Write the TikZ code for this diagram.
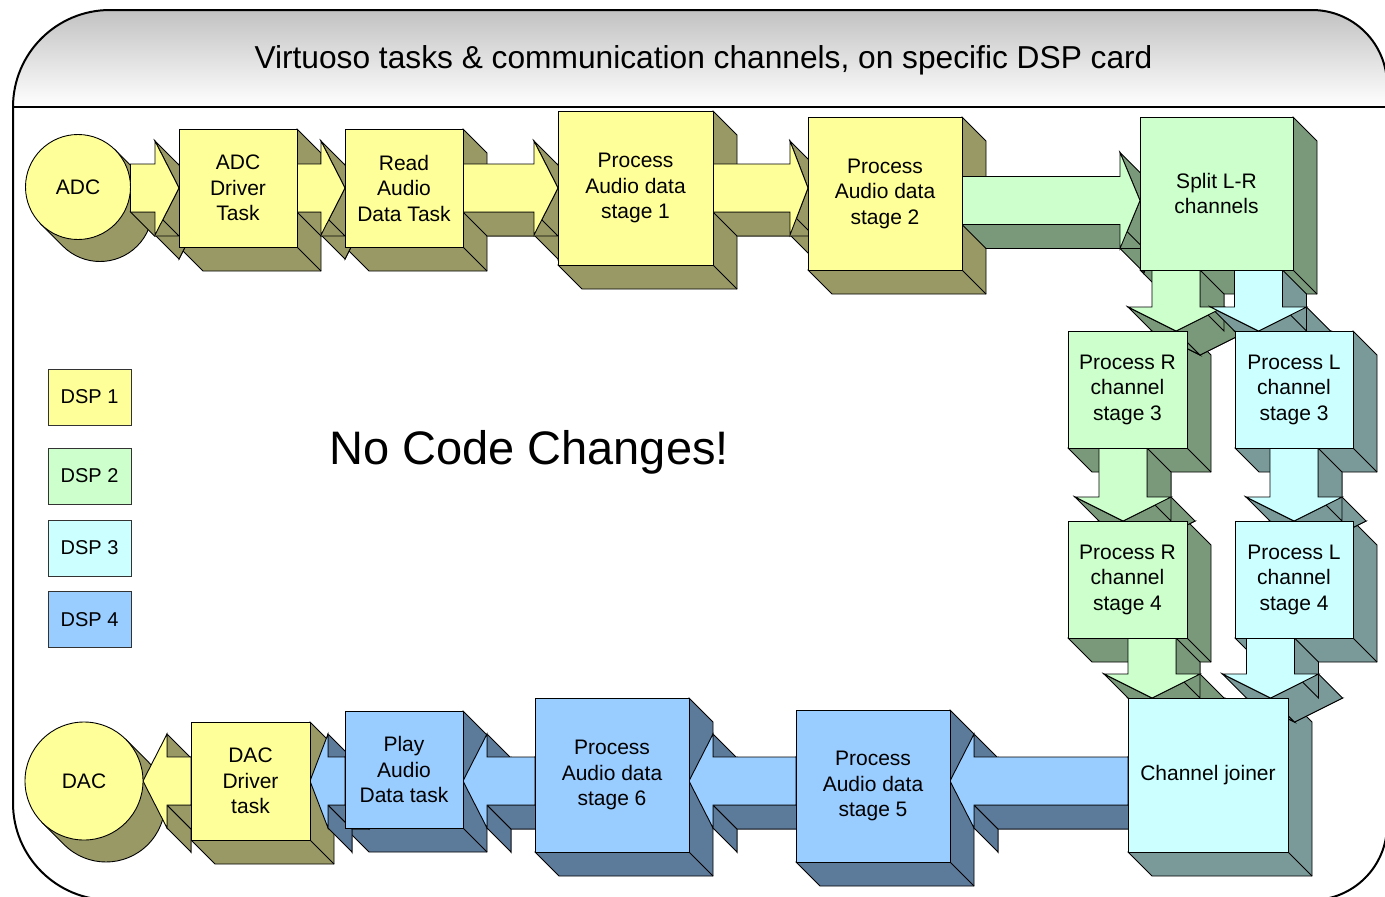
\documentclass[tikz,border=0pt]{standalone}
\usepackage{fontspec}
\setmainfont{Liberation Sans}
\usetikzlibrary{calc}

% drawing order: card frame, box sides, arrow sides, arrow faces, box faces
\pgfdeclarelayer{frame}
\pgfdeclarelayer{boxext}
\pgfdeclarelayer{arrext}
\pgfdeclarelayer{arrfront}
\pgfsetlayers{frame,boxext,arrext,arrfront,main}

% DSP colours: face and shaded side
\definecolor{dspA}{HTML}{FFFF99}\definecolor{dspAside}{HTML}{999966}
\definecolor{dspB}{HTML}{CCFFCC}\definecolor{dspBside}{HTML}{7A997A}
\definecolor{dspC}{HTML}{CCFFFF}\definecolor{dspCside}{HTML}{7A9999}
\definecolor{dspD}{HTML}{99CCFF}\definecolor{dspDside}{HTML}{5C7A99}

\def\dd{24}  % extrusion depth of boxes and arrows
\def\cd{22}  % extrusion depth of the converter discs
\def\sw{24}  % half width of an arrow shaft

\tikzset{
  outline/.style={draw=black, line width=0.9pt},
  taskbox/.style={outline, rectangle, align=center, inner sep=0pt, outer sep=0pt,
    font=\fontsize{21}{25.5}\selectfont},
  taskdisc/.style={outline, circle, inner sep=0pt, outer sep=0pt,
    font=\fontsize{21}{25.5}\selectfont},
  legendbox/.style={draw=black!80, line width=0.8pt, minimum width=83pt,
    minimum height=56pt, inner sep=0pt, outer sep=0pt, font=\fontsize{20}{24}\selectfont},
  cardframe/.style={draw=black, line width=2pt},
}

% extruded task box: name, x, y, width, height, face, side, text
\newcommand\cubenode[8]{%
  \node[taskbox, fill=#6, minimum width=#4pt, minimum height=#5pt] (#1) at (#2,#3) {#8};
  \begin{pgfonlayer}{boxext}
    \filldraw[outline, fill=#7] (#1.north east) -- ($(#1.north east)+(\dd,\dd)$)
      -- ($(#1.south east)+(\dd,\dd)$) -- ($(#1.south west)+(\dd,\dd)$)
      -- (#1.south west) -- cycle;
    \draw[outline] (#1.south east) -- ($(#1.south east)+(\dd,\dd)$);
  \end{pgfonlayer}}

% extruded disc: name, x, y, radius, face, side, text
\newcommand\discnode[7]{%
  \node[taskdisc, fill=#5, minimum size=2*#4pt] (#1) at (#2,#3) {#7};
  \begin{pgfonlayer}{boxext}
    \filldraw[outline, fill=#6] ($(#1.center)+(-45:#4)$) -- ++(\cd,\cd)
      arc[start angle=-45, end angle=135, radius=#4]
      -- ($(#1.center)+(135:#4)$) -- cycle;
  \end{pgfonlayer}}

% solid block arrow through the points A..G, with its lit sides listed as pairs
\newcommand\solidarrow[3]{%
  \foreach \p in {A,B,C,D,E,F,G} {\coordinate (\p d) at ($(\p)+(\dd,\dd)$);}
  \begin{pgfonlayer}{arrext}
    \filldraw[outline, fill=#2] (Ad) -- (Bd) -- (Cd) -- (Dd) -- (Ed) -- (Fd) -- (Gd) -- cycle;
    \foreach \u/\v in {#3} {\filldraw[outline, fill=#2] (\u) -- (\v) -- (\v d) -- (\u d) -- cycle;}
  \end{pgfonlayer}
  \begin{pgfonlayer}{arrfront}
    \filldraw[outline, fill=#1] (A) -- (B) -- (C) -- (D) -- (E) -- (F) -- (G) -- cycle;
  \end{pgfonlayer}}

% arrow to the right: from, to, y, head length, head half height, face, side
\newcommand\arrowR[7]{%
  \coordinate (yref) at (0,#3);
  \coordinate (S) at (#1.east |- yref);
  \coordinate (D) at (#2.west |- yref);
  \coordinate (H) at ($(D)+(-#4,0)$);
  \coordinate (A) at ($(S)+(0,-\sw)$);
  \coordinate (B) at ($(H)+(0,-\sw)$);
  \coordinate (C) at ($(H)+(0,-#5)$);
  \coordinate (E) at ($(H)+(0,#5)$);
  \coordinate (F) at ($(H)+(0,\sw)$);
  \coordinate (G) at ($(S)+(0,\sw)$);
  \solidarrow{#6}{#7}{C/D,D/E,F/G}}

% arrow to the left: from, to, y, head length, head half height, face, side
\newcommand\arrowL[7]{%
  \coordinate (yref) at (0,#3);
  \coordinate (S) at (#1.west |- yref);
  \coordinate (D) at (#2.east |- yref);
  \coordinate (H) at ($(D)+(#4,0)$);
  \coordinate (A) at ($(S)+(0,-\sw)$);
  \coordinate (B) at ($(H)+(0,-\sw)$);
  \coordinate (C) at ($(H)+(0,-#5)$);
  \coordinate (E) at ($(H)+(0,#5)$);
  \coordinate (F) at ($(H)+(0,\sw)$);
  \coordinate (G) at ($(S)+(0,\sw)$);
  \solidarrow{#6}{#7}{B/C,E/F,F/G,G/A}}

% arrow downwards: from, to, x, head length, head half width, face, side
\newcommand\arrowD[7]{%
  \coordinate (xref) at (#3,0);
  \coordinate (S) at (#1.south -| xref);
  \coordinate (D) at (#2.north -| xref);
  \coordinate (H) at ($(D)+(0,-#4)$);
  \coordinate (A) at ($(S)+(-\sw,0)$);
  \coordinate (B) at ($(H)+(-\sw,0)$);
  \coordinate (C) at ($(H)+(-#5,0)$);
  \coordinate (E) at ($(H)+(#5,0)$);
  \coordinate (F) at ($(H)+(\sw,0)$);
  \coordinate (G) at ($(S)+(\sw,0)$);
  \solidarrow{#6}{#7}{C/D,D/E,F/G}}

\begin{document}
\begin{tikzpicture}[x=1pt, y=-1pt]
\useasboundingbox (0,0) rectangle (1385,897);

% card outline with shaded header
\begin{pgfonlayer}{frame}
  \begin{scope}
    \clip (0,0) rectangle (1385,897);
    \shade[top color=black!24, bottom color=white]
      (13,107) arc[start angle=180, end angle=270, radius=97]
      -- (1312,10) arc[start angle=270, end angle=360, radius=75]
      -- (1387,107) -- cycle;
    \draw[cardframe]
      (13,107) arc[start angle=180, end angle=270, radius=97]
      -- (1312,10) arc[start angle=270, end angle=360, radius=75]
      -- (1387,825) arc[start angle=0, end angle=90, radius=75]
      -- (110,900) arc[start angle=90, end angle=180, radius=97] -- cycle;
    \draw[cardframe] (13,107) -- (1387,107);
  \end{scope}
\end{pgfonlayer}

\node[font=\fontsize{31.7}{37}\selectfont, anchor=base] (title) at (703.5,68)
  {Virtuoso tasks \& communication channels, on specific DSP card};

% input chain
\discnode{adc}{78}{187}{52.5}{dspA}{dspAside}{ADC}
\cubenode{drv}{238}{188}{118}{118}{dspA}{dspAside}{ADC\\Driver\\Task}
\cubenode{read}{404}{188}{118}{118}{dspA}{dspAside}{Read\\Audio\\Data Task}
\cubenode{st1}{635.5}{188}{155}{154}{dspA}{dspAside}{Process\\Audio data\\stage 1}
\cubenode{st2}{885}{193.5}{154}{153}{dspA}{dspAside}{Process\\Audio data\\stage 2}
\cubenode{split}{1216.5}{193.5}{153}{153}{dspB}{dspBside}{Split L-R\\channels}

\arrowR{adc}{drv}{188}{24}{47}{dspA}{dspAside}
\arrowR{drv}{read}{188}{24}{47}{dspA}{dspAside}
\arrowR{read}{st1}{188}{24}{47}{dspA}{dspAside}
\arrowR{st1}{st2}{188}{18}{47}{dspA}{dspAside}
\arrowR{st2}{split}{200.5}{20}{48}{dspB}{dspBside}

% right and left channel stages
\cubenode{r3}{1127.5}{389.5}{119}{117}{dspB}{dspBside}{Process R\\channel\\stage 3}
\cubenode{l3}{1294}{389.5}{118}{117}{dspC}{dspCside}{Process L\\channel\\stage 3}
\cubenode{r4}{1127.5}{579.5}{119}{117}{dspB}{dspBside}{Process R\\channel\\stage 4}
\cubenode{l4}{1294}{579.5}{118}{117}{dspC}{dspCside}{Process L\\channel\\stage 4}
\cubenode{join}{1208}{775}{160}{154}{dspC}{dspCside}{Channel joiner}

\arrowD{split}{r3}{1176}{24}{48}{dspB}{dspBside}
\arrowD{split}{l3}{1258.5}{24}{48}{dspC}{dspCside}
\arrowD{r3}{r4}{1123}{24}{48}{dspB}{dspBside}
\arrowD{l3}{l4}{1294}{24}{48}{dspC}{dspCside}
\arrowD{r4}{join}{1152}{24}{48}{dspB}{dspBside}
\arrowD{l4}{join}{1270.5}{24}{48}{dspC}{dspCside}

% output chain
\cubenode{st5}{873}{786}{154}{152}{dspD}{dspDside}{Process\\Audio data\\stage 5}
\cubenode{st6}{612}{775}{154}{154}{dspD}{dspDside}{Process\\Audio data\\stage 6}
\cubenode{play}{404}{769.5}{118}{117}{dspD}{dspDside}{Play\\Audio\\Data task}
\cubenode{ddrv}{250.5}{781}{119}{118}{dspA}{dspAside}{DAC\\Driver\\task}
\discnode{dac}{84}{781}{59}{dspA}{dspAside}{DAC}

\arrowL{join}{st5}{781}{24}{47}{dspD}{dspDside}
\arrowL{st5}{st6}{781}{24}{47}{dspD}{dspDside}
\arrowL{st6}{play}{781}{24}{47}{dspD}{dspDside}
\arrowL{play}{ddrv}{781}{18}{47}{dspD}{dspDside}
\arrowL{ddrv}{dac}{781}{24}{47}{dspA}{dspAside}

% legend
\node[legendbox, fill=dspA] (leg1) at (89.5,397) {DSP 1};
\node[legendbox, fill=dspB] (leg2) at (89.5,476) {DSP 2};
\node[legendbox, fill=dspC] (leg3) at (89.5,548) {DSP 3};
\node[legendbox, fill=dspD] (leg4) at (89.5,619.5) {DSP 4};

\node[font=\fontsize{47}{56}\selectfont, anchor=base] (slogan) at (529,464) {No Code Changes!};
\end{tikzpicture}
\end{document}
